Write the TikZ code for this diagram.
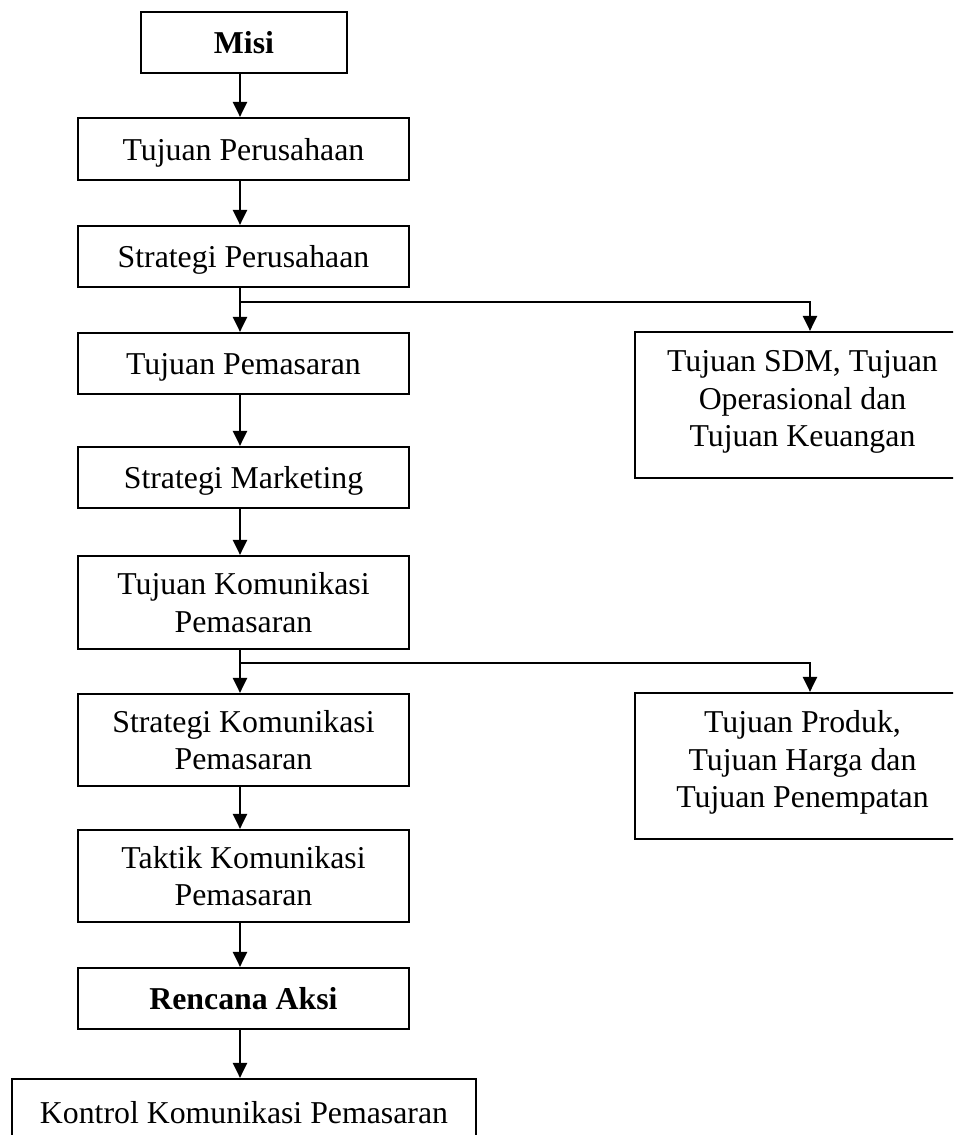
\documentclass[tikz,border=0pt]{standalone}
\usepackage{fontspec}
\setmainfont{Liberation Serif}
\usetikzlibrary{arrows.meta}
\begin{document}
\begin{tikzpicture}[x=1pt,y=-1pt,
  box/.style={draw,line width=2.2pt,rectangle,inner sep=0pt,align=center,
    font=\fontsize{31.8}{37.5}\selectfont,text depth=0pt},
  one/.style={text height=22pt},
  two/.style={text height=59.5pt},
  three/.style={text height=97pt,text depth=14pt},
  arr/.style={line width=2.2pt,-{Triangle[length=15pt,width=14pt]}}]
\useasboundingbox (0,0) rectangle (953,1135);
\clip (0,0) rectangle (953,1135);
\coordinate (ax) at (240,0);
\coordinate (bx) at (810,0);
\node[box,one,minimum width=206pt,minimum height=61pt] (misi) at (244,42.5) {\bfseries Misi};
\node[box,one,minimum width=331pt,minimum height=62pt] (tp) at (243.5,149) {Tujuan Perusahaan};
\node[box,one,minimum width=331pt,minimum height=61pt] (sp) at (243.5,256.5) {Strategi Perusahaan};
\node[box,one,minimum width=331pt,minimum height=61pt] (tpem) at (243.5,363.5) {Tujuan Pemasaran};
\node[box,one,minimum width=331pt,minimum height=61pt] (sm) at (243.5,477.5) {Strategi Marketing};
\node[box,two,minimum width=331pt,minimum height=93pt] (tkp) at (243.5,602.5) {Tujuan Komunikasi\\Pemasaran};
\node[box,two,minimum width=331pt,minimum height=92pt] (skp) at (243.5,740) {Strategi Komunikasi\\Pemasaran};
\node[box,two,minimum width=331pt,minimum height=92pt] (tak) at (243.5,876) {Taktik Komunikasi\\Pemasaran};
\node[box,one,minimum width=331pt,minimum height=61pt] (ra) at (243.5,998.5) {\bfseries Rencana Aksi};
\node[box,one,minimum width=464pt,minimum height=67pt] (kon) at (244,1112.5) {Kontrol Komunikasi Pemasaran};
\node[box,three,minimum width=335pt,minimum height=146pt] (sdm) at (802.5,405) {Tujuan SDM, Tujuan\\Operasional dan\\Tujuan Keuangan};
\node[box,three,minimum width=335pt,minimum height=146pt] (prod) at (802.5,766) {Tujuan Produk,\\Tujuan Harga dan\\Tujuan Penempatan};
\draw[arr] (misi.south -| ax) -- (tp.north -| ax);
\draw[arr] (tp.south -| ax) -- (sp.north -| ax);
\draw[arr] (sp.south -| ax) -- (tpem.north -| ax);
\draw[arr] (sp.south -| ax) ++(0,14) -| (sdm.north -| bx);
\draw[arr] (tpem.south -| ax) -- (sm.north -| ax);
\draw[arr] (sm.south -| ax) -- (tkp.north -| ax);
\draw[arr] (tkp.south -| ax) -- (skp.north -| ax);
\draw[arr] (tkp.south -| ax) ++(0,13) -| (prod.north -| bx);
\draw[arr] (skp.south -| ax) -- (tak.north -| ax);
\draw[arr] (tak.south -| ax) -- (ra.north -| ax);
\draw[arr] (ra.south -| ax) -- (kon.north -| ax);
\end{tikzpicture}
\end{document}
